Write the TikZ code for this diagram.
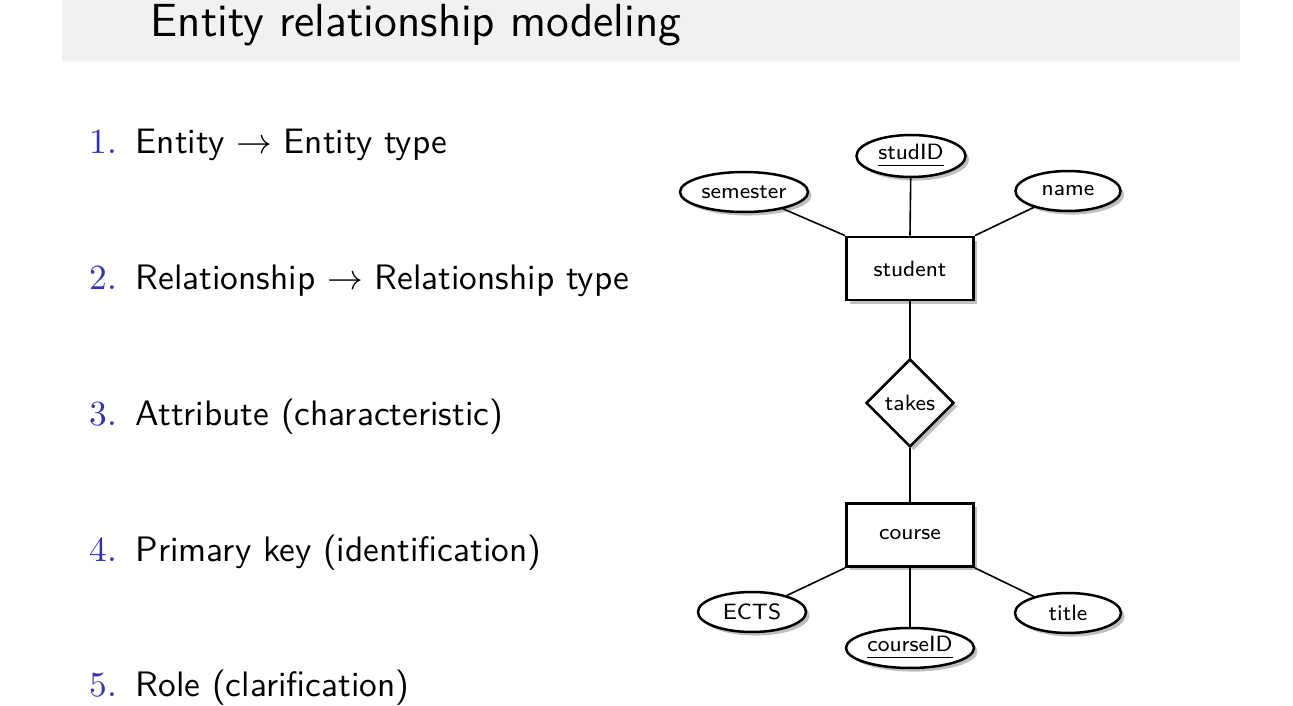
\documentclass[tikz,border=0pt]{standalone}
\usetikzlibrary{shapes.geometric,shadows}
\renewcommand{\familydefault}{\sfdefault}
\definecolor{band}{RGB}{241,241,241}
\definecolor{enumblue}{rgb}{0.2,0.2,0.7}
\def\pxu{0.28pt}
\tikzset{
  erfont/.style={font=\fontsize{6.2}{7}\selectfont},
  entitybox/.style={draw, line width=0.8pt, fill=white, rectangle, minimum width=127*\pxu, minimum height=63*\pxu, inner sep=0pt, erfont,
    drop shadow={shadow xshift=1pt, shadow yshift=-1pt, fill=black!25, opacity=1}},
  relbox/.style={draw, line width=0.7pt, fill=white, diamond, aspect=1, minimum width=88*\pxu, minimum height=88*\pxu, inner sep=0pt, erfont,
    drop shadow={shadow xshift=1pt, shadow yshift=-1pt, fill=black!25, opacity=1}},
  attrib/.style={draw, line width=0.7pt, fill=white, ellipse, inner sep=0pt, minimum height=40*\pxu, erfont,
    drop shadow={shadow xshift=1pt, shadow yshift=-1pt, fill=black!25, opacity=1}},
  conn/.style={line width=0.45pt},
  itemnum/.style={anchor=base west, inner sep=0pt, text=enumblue, font=\rmfamily\fontsize{9.9}{11}\selectfont},
  itemtext/.style={anchor=base west, inner sep=0pt, font=\sffamily\fontsize{9.9}{11}\selectfont},
}
\begin{document}
\begin{tikzpicture}[x=0.28pt,y=-0.28pt]
\useasboundingbox (0,0) rectangle (1293,706);
\fill[band] (62,0) rectangle (1240,58);
\shade[top color=black!6, bottom color=white] (62,58) rectangle (1240,65);
\node[anchor=base west, inner sep=0pt, font=\sffamily\fontsize{13}{15}\selectfont] (title) at (150,37) {Entity relationship modeling};

\node[itemnum] (n1) at (89,154) {1.};
\node[itemtext] (t1) at (135,154) {Entity $\rightarrow$ Entity type};
\node[itemnum] (n2) at (89,290) {2.};
\node[itemtext] (t2) at (135,290) {Relationship $\rightarrow$ Relationship type};
\node[itemnum] (n3) at (89,426) {3.};
\node[itemtext] (t3) at (135,426) {Attribute (characteristic)};
\node[itemnum] (n4) at (89,562) {4.};
\node[itemtext] (t4) at (135,562) {Primary key (identification)};
\node[itemnum] (n5) at (89,697) {5.};
\node[itemtext] (t5) at (135,697) {Role (clarification)};

% ER diagram
\node[entitybox] (student) at (910,268.5) {student};
\node[relbox] (takes) at (910,403) {takes};
\node[entitybox] (course) at (910,535) {course};
\node[attrib, minimum width=128*\pxu] (semester) at (744,192) {semester};
\node[attrib, minimum width=109*\pxu, minimum height=42*\pxu] (studID) at (911,156) {\underline{studID}};
\node[attrib, minimum width=105*\pxu] (name) at (1068,191) {name};
\node[attrib, minimum width=108*\pxu] (ECTS) at (752,612) {ECTS};
\node[attrib, minimum width=128*\pxu] (courseID) at (910,648) {\underline{courseID}};
\node[attrib, minimum width=106*\pxu] (titleattr) at (1068,613) {title};

\draw[conn] (semester) -- (student.north west);
\draw[conn] (studID) -- (student.north);
\draw[conn] (name) -- (student.north east);
\draw[conn] (student) -- (takes);
\draw[conn] (takes) -- (course);
\draw[conn] (course.south west) -- (ECTS);
\draw[conn] (course) -- (courseID);
\draw[conn] (course.south east) -- (titleattr);
\end{tikzpicture}
\end{document}
